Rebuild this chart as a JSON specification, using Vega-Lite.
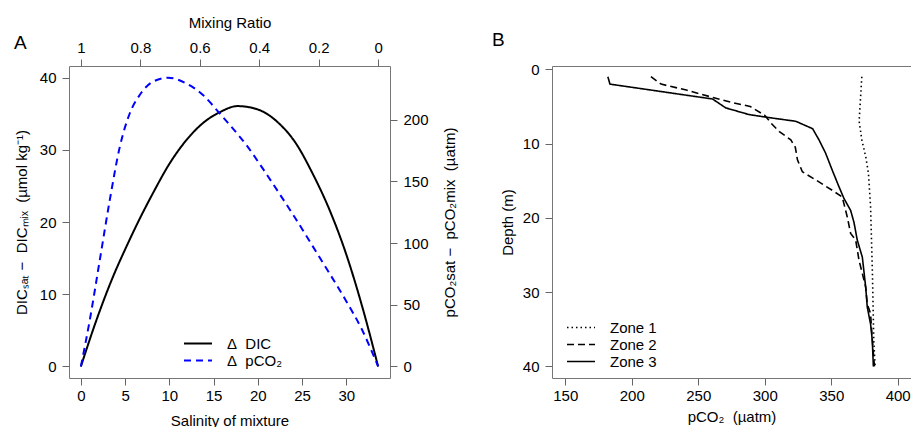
{
  "$schema": "https://vega.github.io/schema/vega-lite/v6.json",
  "autosize": {"type": "pad"},
  "padding": {"left": 13, "top": 14, "right": 0, "bottom": 0},
  "background": "white",
  "datasets": {
    "dic": [
      {"series": "Δ\u00a0\u00a0DIC", "s": 0, "v": 0}, {"series": "Δ\u00a0\u00a0DIC", "s": 1.77, "v": 6.46}, {"series": "Δ\u00a0\u00a0DIC", "s": 3.64, "v": 12.45},
      {"series": "Δ\u00a0\u00a0DIC", "s": 5.15, "v": 16.6}, {"series": "Δ\u00a0\u00a0DIC", "s": 6.65, "v": 20.45}, {"series": "Δ\u00a0\u00a0DIC", "s": 8.15, "v": 24.0},
      {"series": "Δ\u00a0\u00a0DIC", "s": 10.03, "v": 28.1}, {"series": "Δ\u00a0\u00a0DIC", "s": 11.9, "v": 31.3}, {"series": "Δ\u00a0\u00a0DIC", "s": 13.8, "v": 33.7},
      {"series": "Δ\u00a0\u00a0DIC", "s": 15.7, "v": 35.2}, {"series": "Δ\u00a0\u00a0DIC", "s": 17.7, "v": 36.05}, {"series": "Δ\u00a0\u00a0DIC", "s": 19.0, "v": 35.9},
      {"series": "Δ\u00a0\u00a0DIC", "s": 20.55, "v": 35.3}, {"series": "Δ\u00a0\u00a0DIC", "s": 22.4, "v": 33.65}, {"series": "Δ\u00a0\u00a0DIC", "s": 24.3, "v": 30.9},
      {"series": "Δ\u00a0\u00a0DIC", "s": 26.2, "v": 26.7}, {"series": "Δ\u00a0\u00a0DIC", "s": 28.1, "v": 21.7}, {"series": "Δ\u00a0\u00a0DIC", "s": 29.95, "v": 15.7},
      {"series": "Δ\u00a0\u00a0DIC", "s": 31.8, "v": 8.3}, {"series": "Δ\u00a0\u00a0DIC", "s": 33.6, "v": 0}
    ],
    "pco2": [
      {"series": "Δ\u00a0\u00a0pCO₂", "s": 0, "v": 0}, {"series": "Δ\u00a0\u00a0pCO₂", "s": 1.01, "v": 37.8}, {"series": "Δ\u00a0\u00a0pCO₂", "s": 2.14, "v": 86.4},
      {"series": "Δ\u00a0\u00a0pCO₂", "s": 3.27, "v": 135}, {"series": "Δ\u00a0\u00a0pCO₂", "s": 4.4, "v": 178}, {"series": "Δ\u00a0\u00a0pCO₂", "s": 5.52, "v": 205},
      {"series": "Δ\u00a0\u00a0pCO₂", "s": 6.65, "v": 220}, {"series": "Δ\u00a0\u00a0pCO₂", "s": 8.15, "v": 230.8}, {"series": "Δ\u00a0\u00a0pCO₂", "s": 9.85, "v": 234},
      {"series": "Δ\u00a0\u00a0pCO₂", "s": 11.9, "v": 229.4}, {"series": "Δ\u00a0\u00a0pCO₂", "s": 13.8, "v": 220}, {"series": "Δ\u00a0\u00a0pCO₂", "s": 15.7, "v": 205},
      {"series": "Δ\u00a0\u00a0pCO₂", "s": 16.8, "v": 196}, {"series": "Δ\u00a0\u00a0pCO₂", "s": 18.7, "v": 179.5}, {"series": "Δ\u00a0\u00a0pCO₂", "s": 20.55, "v": 160.5},
      {"series": "Δ\u00a0\u00a0pCO₂", "s": 22.4, "v": 140.5}, {"series": "Δ\u00a0\u00a0pCO₂", "s": 24.3, "v": 119.5}, {"series": "Δ\u00a0\u00a0pCO₂", "s": 26.2, "v": 97.5},
      {"series": "Δ\u00a0\u00a0pCO₂", "s": 28.1, "v": 75.5}, {"series": "Δ\u00a0\u00a0pCO₂", "s": 29.95, "v": 53.5}, {"series": "Δ\u00a0\u00a0pCO₂", "s": 31.8, "v": 29.5},
      {"series": "Δ\u00a0\u00a0pCO₂", "s": 33.6, "v": 0}
    ],
    "mix": [{"r": 1}, {"r": 0}],
    "zones": [
      {"zone": "Zone 1", "pco2": 373, "depth": 1}, {"zone": "Zone 1", "pco2": 372, "depth": 4},
      {"zone": "Zone 1", "pco2": 371, "depth": 7}, {"zone": "Zone 1", "pco2": 373, "depth": 9.5},
      {"zone": "Zone 1", "pco2": 376, "depth": 11.8}, {"zone": "Zone 1", "pco2": 378, "depth": 14},
      {"zone": "Zone 1", "pco2": 379.6, "depth": 18.5}, {"zone": "Zone 1", "pco2": 381, "depth": 27.5},
      {"zone": "Zone 1", "pco2": 382, "depth": 36.5}, {"zone": "Zone 1", "pco2": 383, "depth": 40},
      {"zone": "Zone 2", "pco2": 214.4, "depth": 1}, {"zone": "Zone 2", "pco2": 222, "depth": 2},
      {"zone": "Zone 2", "pco2": 241, "depth": 2.8}, {"zone": "Zone 2", "pco2": 261, "depth": 3.8},
      {"zone": "Zone 2", "pco2": 276, "depth": 4.5}, {"zone": "Zone 2", "pco2": 289, "depth": 5},
      {"zone": "Zone 2", "pco2": 300, "depth": 6.2}, {"zone": "Zone 2", "pco2": 305, "depth": 7.3},
      {"zone": "Zone 2", "pco2": 311, "depth": 8.4}, {"zone": "Zone 2", "pco2": 319.6, "depth": 9.5},
      {"zone": "Zone 2", "pco2": 323, "depth": 10.5}, {"zone": "Zone 2", "pco2": 324.6, "depth": 12.2},
      {"zone": "Zone 2", "pco2": 328.3, "depth": 13.8}, {"zone": "Zone 2", "pco2": 338.4, "depth": 14.9},
      {"zone": "Zone 2", "pco2": 350.8, "depth": 16.3}, {"zone": "Zone 2", "pco2": 358.3, "depth": 17.2},
      {"zone": "Zone 2", "pco2": 362.1, "depth": 19.9}, {"zone": "Zone 2", "pco2": 364.6, "depth": 22.1},
      {"zone": "Zone 2", "pco2": 368.4, "depth": 23}, {"zone": "Zone 2", "pco2": 370.9, "depth": 25.7},
      {"zone": "Zone 2", "pco2": 375.9, "depth": 29.3}, {"zone": "Zone 2", "pco2": 377.1, "depth": 31.6},
      {"zone": "Zone 2", "pco2": 379.6, "depth": 32.9}, {"zone": "Zone 2", "pco2": 380.9, "depth": 36.5},
      {"zone": "Zone 2", "pco2": 382.5, "depth": 40},
      {"zone": "Zone 3", "pco2": 182, "depth": 1}, {"zone": "Zone 3", "pco2": 183.6, "depth": 2},
      {"zone": "Zone 3", "pco2": 260.7, "depth": 4}, {"zone": "Zone 3", "pco2": 270.7, "depth": 5.2},
      {"zone": "Zone 3", "pco2": 288.2, "depth": 6.1}, {"zone": "Zone 3", "pco2": 303, "depth": 6.5},
      {"zone": "Zone 3", "pco2": 323.3, "depth": 7}, {"zone": "Zone 3", "pco2": 336, "depth": 8},
      {"zone": "Zone 3", "pco2": 340.8, "depth": 9.5}, {"zone": "Zone 3", "pco2": 345.8, "depth": 11.3},
      {"zone": "Zone 3", "pco2": 350.8, "depth": 13.6}, {"zone": "Zone 3", "pco2": 355.8, "depth": 15.8},
      {"zone": "Zone 3", "pco2": 359.6, "depth": 17.4}, {"zone": "Zone 3", "pco2": 364.6, "depth": 19},
      {"zone": "Zone 3", "pco2": 367.1, "depth": 20.6}, {"zone": "Zone 3", "pco2": 369.6, "depth": 23},
      {"zone": "Zone 3", "pco2": 373.4, "depth": 25.3}, {"zone": "Zone 3", "pco2": 375.9, "depth": 29.3},
      {"zone": "Zone 3", "pco2": 377.1, "depth": 32}, {"zone": "Zone 3", "pco2": 379.6, "depth": 34.3},
      {"zone": "Zone 3", "pco2": 380.9, "depth": 36.5}, {"zone": "Zone 3", "pco2": 381.7, "depth": 40}
    ]
  },
  "hconcat": [
    {
      "width": 321,
      "height": 312,
      "title": {"text": "A", "anchor": "start", "frame": "group", "fontSize": 19, "fontWeight": "normal", "font": "Liberation Sans", "color": "black", "dx": -55, "dy": 42},
      "layer": [
        {
          "data": {"name": "dic"},
          "mark": {"type": "line", "interpolate": "monotone", "strokeWidth": 2},
          "encoding": {
            "x": {"field": "s", "type": "quantitative", "scale": {"domain": [-1.344, 34.944], "nice": false, "zero": false},
                  "axis": {"orient": "bottom", "title": "Salinity of mixture", "values": [0, 5, 10, 15, 20, 25, 30], "titleX": 160.5, "titleY": 47, "titleBaseline": "alphabetic", "labelPadding": 3}},
            "y": {"field": "v", "type": "quantitative", "scale": {"domain": [-1.6, 41.6], "nice": false, "zero": false},
                  "axis": {"orient": "left", "title": "DICₛₐₜ\u00a0−\u00a0\u00a0DICₘᵢₓ\u00a0\u00a0(µmol\u00a0kg⁻¹)", "values": [0, 10, 20, 30, 40], "titleX": -48, "titleY": 156, "titleAngle": 270, "titleBaseline": "middle", "titleAlign": "center", "labelPadding": 6}},
            "color": {"field": "series", "type": "nominal", "scale": {"domain": ["Δ\u00a0\u00a0DIC", "Δ\u00a0\u00a0pCO₂"], "range": ["black", "blue"]},
                      "legend": {"title": null, "orient": "none", "legendX": 114, "legendY": 269, "symbolType": "stroke", "symbolSize": 784, "symbolStrokeWidth": 2, "labelFontSize": 15, "labelFont": "Liberation Sans", "labelColor": "black", "labelOffset": 14, "rowPadding": 0, "clipHeight": 17}},
            "strokeDash": {"field": "series", "type": "nominal", "scale": {"domain": ["Δ\u00a0\u00a0DIC", "Δ\u00a0\u00a0pCO₂"], "range": [[1, 0], [7, 5]]},
                      "legend": {"title": null, "orient": "none", "legendX": 114, "legendY": 269, "symbolType": "stroke", "symbolSize": 784, "symbolStrokeWidth": 2, "labelFontSize": 15, "labelFont": "Liberation Sans", "labelColor": "black", "labelOffset": 14, "rowPadding": 0, "clipHeight": 17}}
          }
        },
        {
          "data": {"name": "pco2"},
          "mark": {"type": "line", "interpolate": "monotone", "strokeWidth": 2},
          "encoding": {
            "x": {"field": "s", "type": "quantitative", "scale": {"domain": [-1.344, 34.944], "nice": false, "zero": false}, "axis": null},
            "y": {"field": "v", "type": "quantitative", "scale": {"domain": [-9.366, 243.5], "nice": false, "zero": false},
                  "axis": {"orient": "right", "title": "pCO₂sat\u00a0−\u00a0\u00a0pCO₂mix\u00a0\u00a0(µatm)", "values": [0, 50, 100, 150, 200], "titleX": 59, "titleY": 156, "titleAngle": 270, "titleBaseline": "middle", "titleAlign": "center", "labelPadding": 6}},
            "color": {"field": "series", "type": "nominal"},
            "strokeDash": {"field": "series", "type": "nominal"}
          }
        },
        {
          "data": {"name": "mix"},
          "mark": {"type": "point", "opacity": 0},
          "encoding": {
            "x": {"field": "r", "type": "quantitative", "scale": {"domain": [-0.04, 1.04], "reverse": true, "nice": false, "zero": false},
                  "axis": {"orient": "top", "title": "Mixing Ratio", "values": [1, 0.8, 0.6, 0.4, 0.2, 0], "format": "~g", "titleX": 160.5, "titleY": -39, "titleBaseline": "alphabetic", "labelPadding": 4}}
          }
        }
      ],
      "resolve": {"scale": {"x": "independent", "y": "independent"}}
    },
    {
      "width": 359,
      "height": 312,
      "title": {"text": "B", "anchor": "start", "frame": "group", "fontSize": 19, "fontWeight": "normal", "font": "Liberation Sans", "color": "black", "dx": -60, "dy": -8},
      "data": {"name": "zones"},
      "mark": {"type": "line", "strokeWidth": 1.6, "color": "black"},
      "encoding": {
        "x": {"field": "pco2", "type": "quantitative", "scale": {"domain": [140, 410], "nice": false, "zero": false},
              "axis": {"orient": "bottom", "title": "pCO₂\u00a0\u00a0(µatm)", "values": [150, 200, 250, 300, 350, 400], "titleX": 179.5, "titleY": 43, "titleBaseline": "alphabetic", "labelPadding": 3}},
        "y": {"field": "depth", "type": "quantitative", "scale": {"domain": [-0.44, 41.56], "reverse": true, "nice": false, "zero": false},
              "axis": {"orient": "left", "title": "Depth (m)", "values": [0, 10, 20, 30, 40], "titleX": -45, "titleY": 156, "titleAngle": 270, "titleBaseline": "middle", "titleAlign": "center", "labelPadding": 6}},
        "order": {"field": "depth", "type": "quantitative"},
        "strokeDash": {"field": "zone", "type": "nominal", "scale": {"domain": ["Zone 1", "Zone 2", "Zone 3"], "range": [[1.5, 3], [7, 4], [1, 0]]},
                       "legend": {"title": null, "orient": "none", "legendX": 14, "legendY": 253, "symbolType": "stroke", "symbolSize": 784, "symbolStrokeWidth": 1.6, "symbolStrokeColor": "black", "labelFontSize": 15, "labelFont": "Liberation Sans", "labelColor": "black", "labelOffset": 14, "rowPadding": 0, "clipHeight": 17}}
      }
    }
  ],
  "spacing": 162,
  "bounds": "flush",
  "resolve": {"scale": {"strokeDash": "independent", "color": "independent"}, "legend": {"strokeDash": "independent", "color": "independent"}},
  "config": {
    "view": {"stroke": "#777", "strokeWidth": 1},
    "axis": {
      "domain": false, "grid": false, "ticks": true, "tickSize": 7, "tickColor": "#666", "tickWidth": 1,
      "labelFont": "Liberation Sans", "labelFontSize": 15, "labelColor": "black",
      "titleFont": "Liberation Sans", "titleFontSize": 15, "titleFontWeight": "normal", "titleColor": "black"
    }
  }
}
